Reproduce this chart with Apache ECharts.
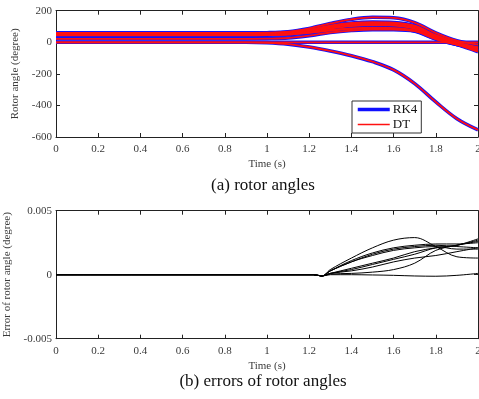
<!DOCTYPE html>
<html><head><meta charset="utf-8">
<script src="https://cdn.jsdelivr.net/npm/echarts@6/dist/echarts.min.js"></script>
<style>html,body{margin:0;padding:0;background:#fff}#c{width:479px;height:399px}</style>
</head><body><div id="c"></div>
<script>
// ---- data ----
const timeA = [0, 0.9, 1.0, 1.1, 1.2, 1.3, 1.4, 1.5, 1.6, 1.7, 1.8, 1.9, 2.0];
const gen1 = [60, 60, 61, 67, 88, 119, 145, 158, 155, 125, 60, 10, -15];
const gen2 = [57, 57, 58, 63, 80, 105, 122, 128, 125, 105, 45, 0, -30];
const gen3 = [54, 54, 55, 60, 77, 100, 117, 122, 120, 100, 40, -5, -40];
const gen4 = [51, 51, 52, 57, 72, 93, 110, 115, 112, 92, 35, -10, -50];
const gen5 = [48, 48, 49, 53, 67, 87, 102, 108, 105, 85, 30, -10, -55];
const gen6 = [46, 46, 47, 50, 62, 78, 88, 92, 90, 75, 25, -15, -60];
const gen7 = [44, 44, 45, 48, 60, 74, 84, 88, 86, 72, 22, -15, -45];
const gen8 = [22, 22, 23, 27, 42, 62, 74, 80, 80, 70, 20, -15, -35];
const genRef = [0, 0, 0, 0, 0, 0, 0, 0, 0, 0, 0, 0, 0];
const genDown = [0, 0, -3, -12, -30, -55, -85, -123, -175, -262, -378, -484, -555];
const gens = [gen1, gen2, gen3, gen4, gen5, gen6, gen7, gen8, genRef, genDown];

const timeB = [0, 1.22, 1.26, 1.3, 1.4, 1.5, 1.6, 1.7, 1.8, 1.9, 2.0];
const err1 = [0, 0, -0.0001, 0.0004, 0.0013, 0.0021, 0.0027, 0.0029, 0.0022, 0.0014, 0.0013];
const err2 = [0, 0, -0.0001, 0.0003, 0.0011, 0.0017, 0.0021, 0.0023, 0.0024, 0.0024, 0.0025];
const err3 = [0, 0, -0.0001, 0.0003, 0.0010, 0.0016, 0.0020, 0.0022, 0.0023, 0.0022, 0.0021];
const err4 = [0, 0, -0.0001, 0.0003, 0.0010, 0.0015, 0.0019, 0.0021, 0.0022, 0.0020, 0.0020];
const err5 = [0, 0, -0.0001, 0.0001, 0.0005, 0.0009, 0.0013, 0.0018, 0.0021, 0.0023, 0.0027];
const err6 = [0, 0, -0.0001, 0.0001, 0.0004, 0.0008, 0.0012, 0.0016, 0.0021, 0.0023, 0.0028];
const err7 = [0, 0, -0.0001, 0.0001, 0.0003, 0.0006, 0.0010, 0.0013, 0.0015, 0.0018, 0.0021];
const err8 = [0, 0, -0.0001, 0.00005, 0.0001, 0.0002, 0.0004, 0.0009, 0.0019, 0.0023, 0.0026];
const err9 = [0, 0, -0.0001, 0, 0, -0.00002, -0.00005, -0.0001, -0.00012, -0.00005, 0.0001];
const errs = [err1, err2, err3, err4, err5, err6, err7, err8, err9];

const legendNames = ['RK4', 'DT'];

// ---- chart ----
const FONT = '"Liberation Serif", "DejaVu Serif", serif';
const pair = (t, v) => t.map((x, i) => [x, v[i]]);
const lblStyle = {fontFamily: FONT, fontSize: 11, color: '#3a3a3a'};

function xAx(grid, pos, show) {
  return {
    type: 'value', gridIndex: grid, position: pos, min: 0, max: 2, interval: 0.2,
    axisLine: {show: true, onZero: false, lineStyle: {color: '#222', width: 1}},
    axisTick: {show: true, inside: true, length: 4, lineStyle: {color: '#222'}},
    axisLabel: Object.assign({show: show, margin: 7, hideOverlap: false, formatter: v => String(+v.toFixed(1))}, lblStyle),
    splitLine: {show: false},
    name: show ? 'Time (s)' : '', nameLocation: 'middle', nameGap: 22,
    nameTextStyle: {fontFamily: FONT, fontSize: 11, color: '#3a3a3a'}
  };
}
function yAx(grid, pos, show, min, max, interval, name, gap, fmt) {
  return {
    type: 'value', gridIndex: grid, position: pos, min: min, max: max, interval: interval,
    axisLine: {show: true, onZero: false, lineStyle: {color: '#222', width: 1}},
    axisTick: {show: true, inside: true, length: 4, lineStyle: {color: '#222'}},
    axisLabel: Object.assign({show: show, margin: 4, formatter: fmt}, lblStyle),
    splitLine: {show: false},
    name: show ? name : '', nameLocation: 'middle', nameGap: gap, nameRotate: 90,
    nameTextStyle: {fontFamily: FONT, fontSize: 11, color: '#3a3a3a'}
  };
}

const series = [];
gens.forEach(g => series.push({
  name: legendNames[0], type: 'line', xAxisIndex: 0, yAxisIndex: 0, data: pair(timeA, g),
  smooth: 0.35, showSymbol: false, symbol: 'none', z: 2,
  lineStyle: {color: '#1010ff', width: 3.5}, itemStyle: {color: '#1010ff'}, silent: true
}));
gens.forEach(g => series.push({
  name: legendNames[1], type: 'line', xAxisIndex: 0, yAxisIndex: 0, data: pair(timeA, g),
  smooth: 0.35, showSymbol: false, symbol: 'none', z: 3,
  lineStyle: {color: '#ff1010', width: 1.8}, itemStyle: {color: '#ff1010'}, silent: true
}));
errs.forEach(e => series.push({
  type: 'line', xAxisIndex: 2, yAxisIndex: 2, data: pair(timeB, e),
  smooth: 0.35, showSymbol: false, symbol: 'none',
  lineStyle: {color: '#000', width: 1}, silent: true
}));

const option = {
  animation: false,
  backgroundColor: '#fff',
  title: [
    {text: '(a) rotor angles', left: 258, top: 172, textAlign: 'center',
     textStyle: {fontFamily: FONT, fontSize: 17, fontWeight: 'normal', color: '#111'}},
    {text: '(b) errors of rotor angles', left: 258, top: 368, textAlign: 'center',
     textStyle: {fontFamily: FONT, fontSize: 17, fontWeight: 'normal', color: '#111'}}
  ],
  legend: {
    data: [
      {name: legendNames[0], lineStyle: {width: 3.5}},
      {name: legendNames[1], lineStyle: {width: 1.5}}
    ],
    left: 352, top: 101, orient: 'vertical',
    padding: [2, 4, 2, 4], itemGap: 2, itemWidth: 32, itemHeight: 14,
    itemStyle: {opacity: 0},
    backgroundColor: '#fff', borderColor: '#333', borderWidth: 1, borderRadius: 0,
    textStyle: {fontFamily: FONT, fontSize: 13, color: '#111', padding: [0, 0, 0, -2]},
    selectedMode: false
  },
  grid: [
    {left: 56, right: 1, top: 10.7, height: 126.3, containLabel: false, outerBoundsMode: 'none'},
    {left: 56, right: 1, top: 210.7, height: 128, containLabel: false, outerBoundsMode: 'none'}
  ],
  xAxis: [xAx(0, 'bottom', true), xAx(0, 'top', false), xAx(1, 'bottom', true), xAx(1, 'top', false)],
  yAxis: [
    yAx(0, 'left', true, -600, 200, 200, 'Rotor angle (degree)', 34, v => String(v)),
    yAx(0, 'right', false, -600, 200, 200, '', 0, null),
    yAx(1, 'left', true, -0.005, 0.005, 0.005, 'Error of rotor angle (degree)', 42, v => v === 0 ? '0' : String(+v.toFixed(3))),
    yAx(1, 'right', false, -0.005, 0.005, 0.005, '', 0, null)
  ],
  series: series
};
const chart = echarts.init(document.getElementById('c'), null, {renderer: 'canvas'});
chart.setOption(option);
</script></body></html>
